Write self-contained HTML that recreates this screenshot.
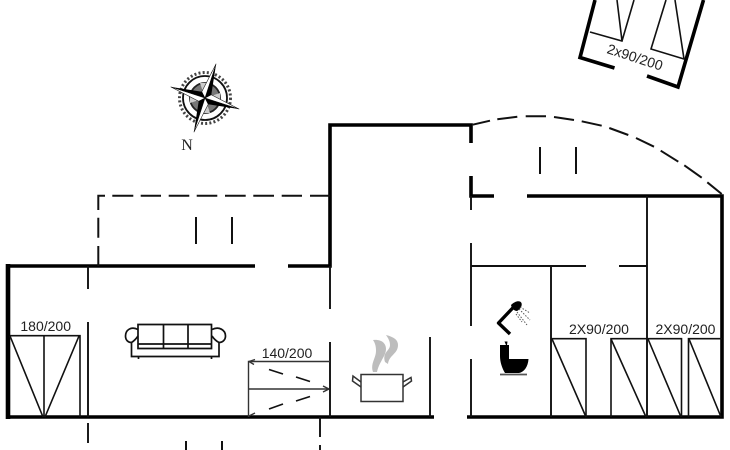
<!DOCTYPE html>
<html>
<head>
<meta charset="utf-8">
<style>
html,body{margin:0;padding:0;background:#fff;width:730px;height:450px;overflow:hidden}
svg{display:block;filter:blur(.35px)}
text{font-family:"Liberation Sans",sans-serif;font-size:14px;fill:#222}
</style>
</head>
<body>
<svg width="730" height="450" viewBox="0 0 730 450" xmlns="http://www.w3.org/2000/svg" fill="none" stroke-linecap="butt">
<!-- thick walls -->
<g stroke="#000" stroke-width="3.600">
<path d="M255 266H8V417H434"/>
<path d="M288 266H330V125H471V143"/>
<path d="M471 176V196H494"/>
<path d="M527 196H722V417H467"/>
</g>
<path d="M8 264V419" stroke="#000" stroke-width="4.600"/>
<!-- top right rotated building -->
<g stroke="#000" stroke-width="3.600">
<path d="M595 0L580 57.500L614.500 68"/>
<path d="M703.500 0L678 87L647 76"/>
</g>
<g stroke="#111" stroke-width="1.600">
<path d="M590 32L622 41L634 0M622 41L617 0"/>
<path d="M666 0L651 49L684 59L675 0"/>
</g>
<text transform="translate(635 57) rotate(18)" x="0" y="5" text-anchor="middle">2x90/200</text>
<!-- thin walls -->
<g stroke="#111" stroke-width="1.900">
<path d="M88 266V289M88 322V417M88 423V443"/>
<path d="M330 266V309M330 342V417"/>
<path d="M430 337V417"/>
<path d="M320 417V437M320 445V450"/>
<path d="M471 196V210M471 243V326M471 359V417"/>
<path d="M471 266H586M619 266H647"/>
<path d="M551 266V417M647 196V417"/>
</g>
<!-- dashed terrace -->
<g stroke="#111" stroke-width="2">
<path d="M98.300 210V195.700H105M112.300 195.700H133.300M140.700 195.700H161M168.700 195.700H189.300M196.700 195.700H217.300M225 195.700H245.700M253.300 195.700H274M281.700 195.700H302M310 195.700H330"/>
<path d="M98.300 217.700V237.700M98.300 246V266"/>
<path d="M472.700 124.700L490 120.700M497.300 119.300L517.300 116.700M525.700 116.300L546 116.300M554 117L574 120M581.700 121.300L601.700 125.700M609.300 128L628.300 135M636 138L654 146.700M660.700 150.700L678.300 161.700M684.300 165.300L701.700 177.700M707.300 182.300L721.700 194"/>
<path d="M196 217V244M232 217V244M540 147V174M576 147V174M186 441V450M222 441V450"/>
</g>
<!-- bed 180/200 -->
<g stroke="#111" stroke-width="1.600">
<path d="M10 335.700H80V417M44 336V417M10 336L43 417M79 336L45 417"/>
</g>
<text x="45.700" y="331" text-anchor="middle">180/200</text>
<!-- bed 140/200 -->
<g stroke="#333" stroke-width="1.400">
<path d="M248.500 417V361.500H330M248.500 389H329"/>
<path d="M249 361.500l6 -2M249 361.500l5 3M249 416l6 -3M329 389l-6 -3M329 389l-6 3"/>
<path d="M269 369.500L283 374M296 377L310 381.500M269 409L283 404M296 401L310 396.500" stroke="#111" stroke-width="1.700"/>
</g>
<text x="287" y="358" text-anchor="middle">140/200</text>
<!-- right beds -->
<g stroke="#111" stroke-width="1.600">
<path d="M551 338.700H586V417M611 417V338.700H647M647 338.700H681.500V417M688.500 417V338.700H722"/>
<path d="M552 339L586 417M611 339L646 417M648 339L681 417M689 339L721 417"/>
</g>
<text x="599" y="334" text-anchor="middle">2X90/200</text>
<text x="685.500" y="334" text-anchor="middle">2X90/200</text>
<!-- sofa -->
<g stroke="#111" stroke-width="1.700">
<path d="M138 324.500H211.500V348.500H138ZM163.500 324.500V348.500M188 324.500V348.500M138 344H211.500"/>
<path d="M138 329.500C131 326 125.500 330 125.500 336C125.500 340 128 342.500 131.500 342.500V356.500H219V342.500C222.500 342.500 225.500 340 225.500 336C225.500 330 219 326 212 329.500"/>
<path d="M131.500 342.500C134 341 136 339 138 336M219 342.500C216 341 214 339 212 336M138.500 357V359M211.500 357V359"/>
</g>
<!-- pot -->
<g stroke="#333" stroke-width="1.500">
<path d="M361 374.500H403V401.500H361Z"/>
<path d="M361 382L353 376L352.500 381L361 387M403 382L411 377.500L411.500 381L403 387"/>
</g>
<g fill="#bdbdbd">
<path d="M373 340C381 339 386 343 386 349C386 356 379 362 377 372L373 372C370 364 376 358 376 351C376 346 375 343 373 340Z"/>
<path d="M386 335C394 337 398 340 398 345C398 354 389 355 388 364L385 362C382 352 390 351 390 345C390 341 388 338 386 335Z"/>
</g>
<!-- shower -->
<path d="M516.500 304L498.500 323L510 334" stroke="#000" stroke-width="3.400" stroke-linejoin="round"/>
<path d="M511 305C515 301 520 300 521.500 303C522.500 306 520 309.500 517 311C514 311 511.500 308 511 305Z" fill="#000"/>
<g stroke="#555" stroke-width="1" stroke-dasharray="1.500 1.500">
<path d="M520 307L530 313M519 309L530 320M517 312L527 325M516 314L522 322"/>
</g>
<!-- toilet -->
<path d="M500 345H506L504.500 341.500H507.500L507 345H509V359H528.500C528 367 524 372 519 373H505C502 368 500 362 500 356Z" fill="#000"/>
<path d="M500 374.500H527" stroke="#555" stroke-width="1.800"/>
<!-- compass -->
<g transform="translate(205 98)">
<circle r="25.500" stroke="#444" stroke-width="3" stroke-dasharray="2 2.200"/>
<circle r="22" stroke="#111" stroke-width="1.800"/>
<circle r="15" fill="#777" stroke="#222" stroke-width="1.800"/>
<path d="M0 0L15 -5L15 5ZM0 0L-15 -5L-15 5ZM0 0L5 15L-5 15ZM0 0L5 -15L-5 -15Z" fill="#ccc"/>
<g transform="rotate(18)">
<path d="M0 -36L5 -5L0 0Z" fill="#000"/>
<path d="M0 -36L-5 -5L0 0Z" fill="#fff" stroke="#000" stroke-width=".5"/>
<path d="M36 0L5 5L0 0Z" fill="#000"/>
<path d="M36 0L5 -5L0 0Z" fill="#fff" stroke="#000" stroke-width=".5"/>
<path d="M0 36L-5 5L0 0Z" fill="#000"/>
<path d="M0 36L5 5L0 0Z" fill="#fff" stroke="#000" stroke-width=".5"/>
<path d="M-36 0L-5 -5L0 0Z" fill="#000"/>
<path d="M-36 0L-5 5L0 0Z" fill="#fff" stroke="#000" stroke-width=".5"/>
</g>
</g>
<text x="187" y="150" text-anchor="middle" style="font-family:'Liberation Serif',serif;font-size:16px;fill:#222">N</text>
</svg>
</body>
</html>
